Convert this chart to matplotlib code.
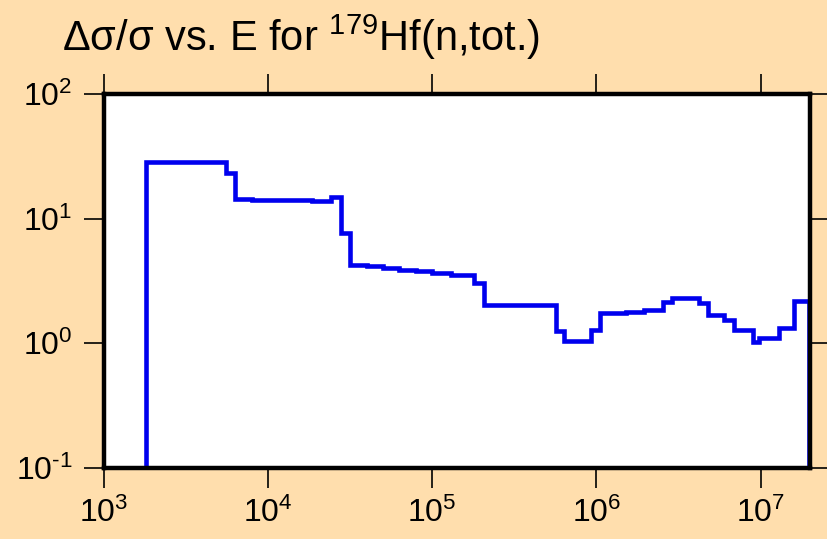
import matplotlib
matplotlib.use("Agg")
import matplotlib.pyplot as plt
import matplotlib.ticker as mticker
import numpy as np

# group boundaries (eV) and relative uncertainty in each group
edges = [1.8e3, 5.53e3, 6.27e3, 8.0e3, 1.05e4, 1.4e4, 1.85e4, 2.43e4, 2.8e4,
         3.17e4, 4.0e4, 5.0e4, 6.3e4, 8.0e4, 1.0e5, 1.3e5, 1.81e5, 2.07e5,
         5.69e5, 6.4e5, 9.3e5, 1.06e6, 1.52e6, 1.96e6, 2.53e6, 2.88e6,
         4.24e6, 4.77e6, 5.96e6, 6.85e6, 8.95e6, 9.84e6, 1.30e7, 1.61e7, 1.96e7]
rel_unc = [28.5, 23.4, 14.3, 14.2, 14.1, 14.0, 13.8, 14.9, 7.66,
           4.27, 4.15, 4.0, 3.9, 3.8, 3.7, 3.55, 3.03, 2.03,
           1.26, 1.05, 1.28, 1.75, 1.79, 1.85, 2.13, 2.30,
           2.11, 1.69, 1.55, 1.29, 1.03, 1.10, 1.33, 2.2]

x_range = (1e3, 2.0e7)
y_range = (1e-1, 1e2)

plt.rcParams['font.family'] = ['Liberation Sans', 'DejaVu Sans']
plt.rcParams['mathtext.fontset'] = 'custom'
plt.rcParams['mathtext.rm'] = 'Liberation Sans'
plt.rcParams['mathtext.it'] = 'Liberation Sans'
plt.rcParams['mathtext.bf'] = 'Liberation Sans'


def pow10(val, pos):
    e = int(round(np.log10(val)))
    if e < 0:
        return r'$\mathdefault{10^{\text{-}%d}}$' % (-e)
    return r'$\mathdefault{10^{%d}}$' % e


bg = '#FFDEAD'
fig = plt.figure(figsize=(8.27, 5.39), dpi=100, facecolor=bg)
ax = fig.add_axes([0.1254, 0.1317, 0.9794 - 0.1254, 0.8256 - 0.1317])
ax.set_facecolor('white')

ax.stairs(rel_unc, edges, baseline=0.01, color='#0000EE', linewidth=3.3)

ax.set_xscale('log')
ax.set_yscale('log')
ax.set_xlim(*x_range)
ax.set_ylim(*y_range)

ax.xaxis.set_major_locator(mticker.LogLocator(base=10, numticks=10))
ax.yaxis.set_major_locator(mticker.LogLocator(base=10, numticks=10))
ax.xaxis.set_minor_locator(mticker.NullLocator())
ax.yaxis.set_minor_locator(mticker.NullLocator())
ax.xaxis.set_major_formatter(mticker.FuncFormatter(pow10))
ax.yaxis.set_major_formatter(mticker.FuncFormatter(pow10))

for sp in ax.spines.values():
    sp.set_linewidth(3.2)
    sp.set_zorder(5)

ax.tick_params(which='major', direction='out', length=14.5, width=1.2,
               top=True, right=True, labelsize=23, pad=7, color='black')
ax.tick_params(axis='y', pad=8)

fig.text(62 / 827, 1 - 51 / 539, r'Δσ/σ vs. E for $^{179}$Hf(n,tot.)',
         fontsize=30, ha='left', va='baseline')

fig.savefig('out.png', dpi=100, facecolor=bg)
